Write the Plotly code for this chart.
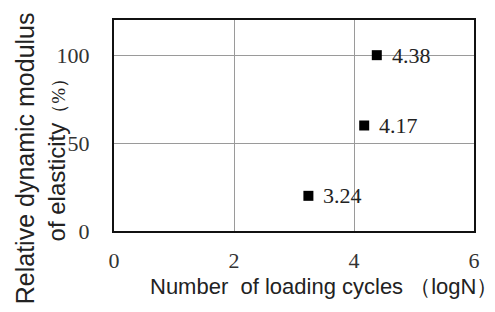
import plotly.graph_objects as go

cycles_logN = [4.38, 4.17, 3.24]
modulus_pct = [100, 60, 20]
point_labels = ["4.38", "4.17", "3.24"]
x_ticks = [0, 2, 4, 6]
y_ticks = [0, 50, 100]

fig = go.Figure()
fig.add_trace(go.Scatter(
    x=cycles_logN, y=modulus_pct, mode="markers",
    marker=dict(symbol="square", size=10, color="black"),
    cliponaxis=False, showlegend=False, hoverinfo="skip",
))
for xv, yv, lab in zip(cycles_logN, modulus_pct, point_labels):
    fig.add_annotation(
        x=xv, y=yv, text=lab, showarrow=False, xanchor="left", yanchor="middle",
        xshift=13, font=dict(family="Liberation Serif", size=22, color="#222"),
    )

fig.update_xaxes(
    range=[0, 6], tickvals=x_ticks, ticktext=[str(v) for v in x_ticks],
    showgrid=True, gridcolor="#9a9a9a", gridwidth=1,
    showline=True, linecolor="#111", linewidth=2, mirror=True,
    ticks="", zeroline=False, ticklabelstandoff=9,
    tickfont=dict(family="Liberation Serif", size=22, color="#333"),
)
fig.update_yaxes(
    range=[0, 120], tickvals=y_ticks, ticktext=[str(v) for v in y_ticks],
    showgrid=True, gridcolor="#9a9a9a", gridwidth=1,
    showline=True, linecolor="#111", linewidth=2, mirror=True,
    ticks="", zeroline=False, ticklabelstandoff=18,
    tickfont=dict(family="Liberation Serif", size=22, color="#333"),
)

fig.add_annotation(
    text="Number  of loading cycles （logN）", xref="paper", yref="paper",
    x=0.094, y=-0.262, xanchor="left", yanchor="middle", showarrow=False,
    font=dict(family="Liberation Sans", size=22, color="#222"),
)
fig.add_annotation(
    text="Relative dynamic modulus", xref="paper", yref="paper",
    x=-0.247, y=0.345, xanchor="center", yanchor="middle", showarrow=False,
    textangle=-90, font=dict(family="Liberation Sans", size=25, color="#222"),
)
fig.add_annotation(
    text="of elasticity<span style='font-family:Liberation Serif;font-size:19px'>（%）</span>",
    xref="paper", yref="paper",
    x=-0.16, y=0.36, xanchor="center", yanchor="middle", showarrow=False,
    textangle=-90, font=dict(family="Liberation Sans", size=24, color="#222"),
)

fig.update_layout(
    width=495, height=312,
    margin=dict(l=114, r=21, t=20, b=81),
    paper_bgcolor="white", plot_bgcolor="white",
    hovermode=False,
)
fig.write_html("out.html", config={"displayModeBar": False, "staticPlot": True},
               post_script="document.body.style.margin='0';")
